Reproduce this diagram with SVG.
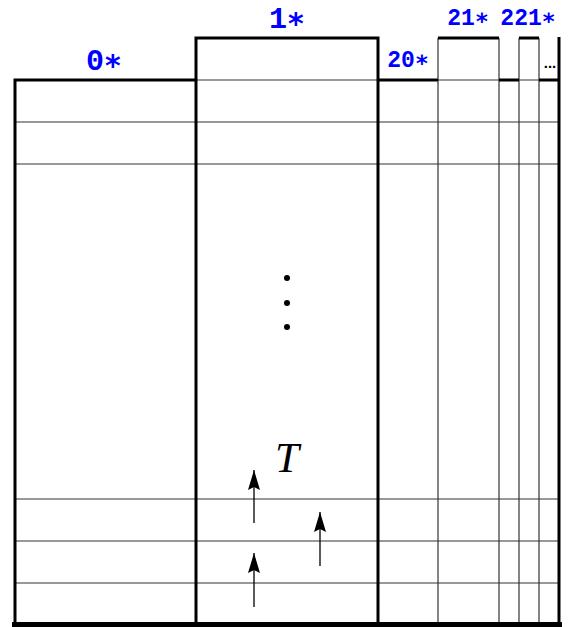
<svg xmlns="http://www.w3.org/2000/svg" width="568" height="627" viewBox="0 0 568 627">
<defs>
<style>
.thick{stroke:#000;stroke-width:3;fill:none}
.thin{stroke:#333;stroke-width:1.2;fill:none}
.lbl{font-family:"Liberation Mono","DejaVu Sans Mono",monospace;font-weight:bold;fill:#0000ff}
.ast{font-family:"DejaVu Sans Mono","DejaVu Sans",monospace;font-weight:bold}
.arr{stroke:#000;stroke-width:1.3;fill:none}
</style>
<marker id="ah" viewBox="0 0 20 12" refX="20" refY="6" markerWidth="20" markerHeight="12" markerUnits="userSpaceOnUse" orient="auto">
<path d="M0,0 L20,6 L0,12 L3,6 Z" fill="#000"/>
</marker>
</defs>
<rect width="568" height="627" fill="#fff"/>
<g id="grid">
<line class="thin" x1="15" y1="80" x2="559" y2="80"/>
<line class="thin" x1="15" y1="122" x2="559" y2="122"/>
<line class="thin" x1="15" y1="164" x2="559" y2="164"/>
<line class="thin" x1="15" y1="499" x2="559" y2="499"/>
<line class="thin" x1="15" y1="541" x2="559" y2="541"/>
<line class="thin" x1="15" y1="583" x2="559" y2="583"/>
<line class="thin" x1="438" y1="38" x2="438" y2="623"/>
<line class="thin" x1="499" y1="38" x2="499" y2="623"/>
<line class="thin" x1="519" y1="38" x2="519" y2="623"/>
<line class="thin" x1="539" y1="38" x2="539" y2="623"/>
</g>
<g id="col0">
<path class="thick" d="M15,623 V80 H196"/>
</g>
<g id="col1">
<path class="thick" d="M196,623 V38 H378 V623"/>
</g>
<g id="col20">
<path class="thick" d="M378,80 H438"/>
</g>
<g id="col21">
<path class="thick" d="M438,38 H499"/>
</g>
<g id="col22">
<path class="thick" d="M499,80 H519"/>
<path class="thick" d="M519,38 H539"/>
<path class="thick" d="M539,80 H559"/>
<line class="thick" x1="559" y1="37" x2="559" y2="623"/>
</g>
<line x1="12" y1="624.5" x2="562" y2="624.5" stroke="#000" stroke-width="5"/>
<g id="labels">
<text class="lbl" x="104" y="70" font-size="30" text-anchor="middle">0<tspan class="ast">∗</tspan></text>
<text class="lbl" x="287" y="28" font-size="30" text-anchor="middle">1<tspan class="ast">∗</tspan></text>
<text class="lbl" x="408" y="67" font-size="23" text-anchor="middle">20<tspan class="ast">∗</tspan></text>
<text class="lbl" x="468" y="25" font-size="23" text-anchor="middle">21<tspan class="ast">∗</tspan></text>
<text class="lbl" x="528" y="25" font-size="23" text-anchor="middle">221<tspan class="ast">∗</tspan></text>
<text x="550" y="68" font-family="Liberation Sans,sans-serif" font-weight="bold" font-size="15" text-anchor="middle" fill="#000">...</text>
</g>
<g id="dots" fill="#000">
<circle cx="287" cy="278" r="3"/>
<circle cx="287" cy="303" r="3"/>
<circle cx="287" cy="327" r="3"/>
</g>
<text x="287" y="472" font-family="Liberation Serif,serif" font-style="italic" font-size="43" text-anchor="middle" fill="#000">T</text>
<g id="connectors">
<line class="arr" x1="254" y1="523" x2="254" y2="470" marker-end="url(#ah)"/>
<line class="arr" x1="320" y1="566" x2="320" y2="512" marker-end="url(#ah)"/>
<line class="arr" x1="254" y1="607" x2="254" y2="553" marker-end="url(#ah)"/>
</g>
</svg>
